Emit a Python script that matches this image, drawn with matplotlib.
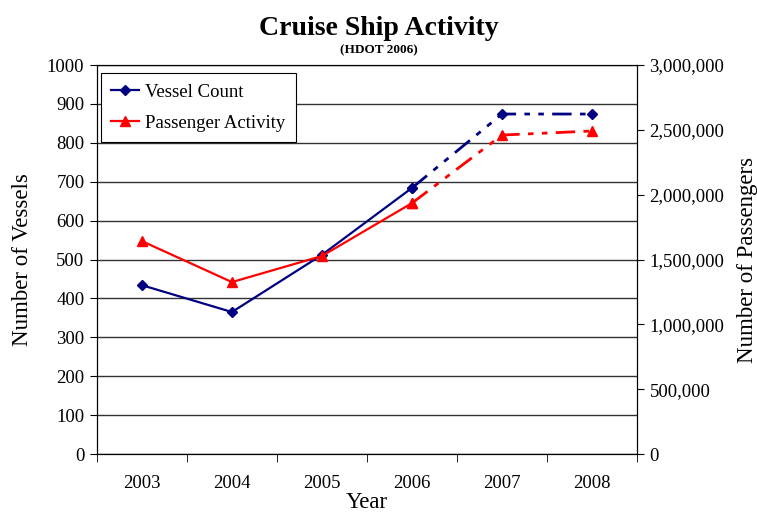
import matplotlib
matplotlib.use('Agg')
import matplotlib.pyplot as plt
from matplotlib.ticker import FuncFormatter, MultipleLocator

years = ['2003', '2004', '2005', '2006', '2007', '2008']
vessels = [434, 365, 512, 684, 874, 874]
passengers = [1642000, 1326000, 1527000, 1935000, 2460000, 2491000]

plt.rcParams['font.family'] = ['Liberation Serif', 'DejaVu Serif']

navy = '#000080'
red = '#ff0000'
dash = (0, (7, 3, 2, 3, 2, 3))

fig = plt.figure(figsize=(7.57, 5.14), dpi=100)
ax = fig.add_axes([0.128, 0.1167, 0.7135, 0.7568])
ax2 = ax.twinx()

x = list(range(len(years)))

# solid part (actual) and dashed part (projection)
ax.plot(x[:4], vessels[:4], color=navy, lw=1.6, marker='D', ms=5, label='Vessel Count')
ax.plot(x[3:], vessels[3:], color=navy, lw=2, ls=dash, marker='D', ms=5)
ax2.plot(x[:4], passengers[:4], color=red, lw=1.6, marker='^', ms=7, label='Passenger Activity')
ax2.plot(x[3:], passengers[3:], color=red, lw=2, ls=dash, marker='^', ms=7)

ax.set_xlim(-0.5, 5.5)
ax.set_ylim(0, 1000)
ax2.set_ylim(0, 3000000)

ax.yaxis.set_major_locator(MultipleLocator(100))
ax2.yaxis.set_major_locator(MultipleLocator(500000))
ax2.yaxis.set_major_formatter(FuncFormatter(lambda v, p: f'{int(v):,}'))

ax.set_xticks(x)
ax.set_xticklabels(years)
ax.set_xticks([i - 0.5 for i in range(len(years) + 1)], minor=True)
ax.tick_params(axis='x', which='major', length=0, pad=15, labelsize=13.5)
ax.tick_params(axis='x', which='minor', length=6, direction='out', color='black')
ax.tick_params(axis='y', length=5, direction='out', labelsize=13.5, pad=4)
ax2.tick_params(axis='y', length=5, direction='out', labelsize=13.5, pad=4)

ax.grid(axis='y', color='#333333', lw=1)
ax.set_axisbelow(True)
for s in ['left', 'right', 'bottom', 'top']:
    ax.spines[s].set_color('black')
    ax2.spines[s].set_color('black')
ax.spines['top'].set_color('#333333')

ax.set_xlabel('Year', fontsize=16.5, labelpad=0)
ax.set_ylabel('Number of Vessels', fontsize=16.5, labelpad=10)
ax2.set_ylabel('Number of Passengers', fontsize=16.5, labelpad=9)

fig.text(0.5, 0.932, 'Cruise Ship Activity', ha='center', fontsize=20, fontweight='bold')
fig.text(0.5, 0.897, '(HDOT 2006)', ha='center', fontsize=9.5, fontweight='bold')

h1, l1 = ax.get_legend_handles_labels()
h2, l2 = ax2.get_legend_handles_labels()
leg = ax2.legend(h1 + h2, l1 + l2, loc='upper left', bbox_to_anchor=(0.0074, 0.979),
                 borderaxespad=0, fontsize=13.5, frameon=True, fancybox=False,
                 edgecolor='black', framealpha=1, handlelength=1.5, handletextpad=0.3,
                 labelspacing=0.75, borderpad=0.55)
leg.get_frame().set_linewidth(0.8)

fig.savefig('out.png', dpi=100)
